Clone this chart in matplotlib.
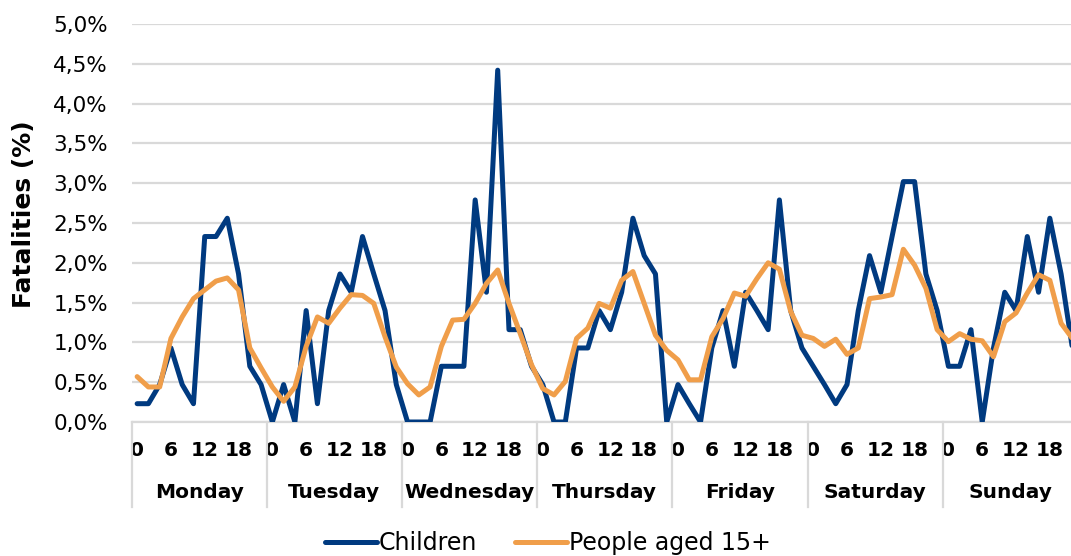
import numpy as np
import matplotlib.pyplot as plt
import matplotlib.transforms as mtransforms
from matplotlib.ticker import FuncFormatter

# Data: share of fatalities (%) by 2-hour slot, for each day of the week
days = ['Monday', 'Tuesday', 'Wednesday', 'Thursday', 'Friday', 'Saturday', 'Sunday']
hours = [0, 2, 4, 6, 8, 10, 12, 14, 16, 18, 20, 22]
hour_labels = ['0', '', '', '6', '', '', '12', '', '', '18', '', '']

children = [
    0.23, 0.23, 0.47, 0.93, 0.47, 0.23, 2.33, 2.33, 2.56, 1.86, 0.70, 0.47,   # Mon
    0.00, 0.47, 0.00, 1.40, 0.23, 1.40, 1.86, 1.63, 2.33, 1.86, 1.40, 0.47,   # Tue
    0.00, 0.00, 0.00, 0.70, 0.70, 0.70, 2.79, 1.63, 4.42, 1.16, 1.16, 0.70,   # Wed
    0.47, 0.00, 0.00, 0.93, 0.93, 1.40, 1.16, 1.63, 2.56, 2.09, 1.86, 0.00,   # Thu
    0.47, 0.23, 0.00, 0.93, 1.40, 0.70, 1.63, 1.40, 1.16, 2.79, 1.40, 0.93,   # Fri
    0.70, 0.47, 0.23, 0.47, 1.40, 2.09, 1.63, 2.33, 3.02, 3.02, 1.86, 1.40,   # Sat
    0.70, 0.70, 1.16, 0.00, 0.93, 1.63, 1.40, 2.33, 1.63, 2.56, 1.86, 0.93,   # Sun
]

adults = [
    0.57, 0.44, 0.44, 1.05, 1.32, 1.55, 1.66, 1.77, 1.81, 1.66, 0.93, 0.68,   # Mon
    0.44, 0.26, 0.44, 0.95, 1.32, 1.24, 1.43, 1.60, 1.59, 1.49, 1.07, 0.69,   # Tue
    0.48, 0.34, 0.44, 0.95, 1.28, 1.29, 1.49, 1.74, 1.91, 1.49, 1.11, 0.72,   # Wed
    0.42, 0.34, 0.51, 1.05, 1.18, 1.49, 1.43, 1.78, 1.89, 1.49, 1.09, 0.90,   # Thu
    0.78, 0.53, 0.53, 1.07, 1.30, 1.62, 1.58, 1.80, 2.00, 1.92, 1.39, 1.09,   # Fri
    1.05, 0.95, 1.04, 0.85, 0.93, 1.55, 1.57, 1.60, 2.17, 1.97, 1.68, 1.16,   # Sat
    1.01, 1.11, 1.04, 1.02, 0.82, 1.26, 1.37, 1.62, 1.85, 1.78, 1.24, 1.05,   # Sun
]

blue = '#003A80'
orange = '#F09E4A'
grey = '#D9D9D9'

plt.rcParams['font.family'] = ['DejaVu Sans']

fig = plt.figure(figsize=(10.71, 5.56), dpi=100)
ax = fig.add_axes([131.5 / 1071, 134 / 556, 946.5 / 1071, 398 / 556])

x = np.arange(len(children))
ax.plot(x, children, color=blue, lw=3.6, solid_joinstyle='round', solid_capstyle='round',
        label='Children', zorder=3)
ax.plot(x, adults, color=orange, lw=3.6, solid_joinstyle='round', solid_capstyle='round',
        label='People aged 15+', zorder=4)

ax.set_xlim(-0.5, len(children) - 0.5)
ax.set_ylim(0, 5)
ax.set_yticks(np.arange(0, 5.01, 0.5))
ax.yaxis.set_major_formatter(FuncFormatter(lambda v, p: f'{v:.1f}%'.replace('.', ',')))
ax.tick_params(axis='y', length=0, pad=17, labelsize=15.5)
ax.yaxis.grid(True, color=grey, lw=1.6)
ax.set_axisbelow(True)

ax.set_xticks(x)
ax.set_xticklabels(hour_labels * len(days), fontweight='bold', fontsize=14.5)
ax.tick_params(axis='x', length=0, pad=14)

for s in ['top', 'right', 'left']:
    ax.spines[s].set_visible(False)
ax.spines['bottom'].set_color(grey)
ax.spines['bottom'].set_linewidth(1.6)

# day separators and day names below the hour labels
trans = mtransforms.blended_transform_factory(ax.transData, ax.transAxes)
n = len(hours)
for k, day in enumerate(days):
    ax.plot([k * n - 0.5, k * n - 0.5], [0, -0.214], color=grey, lw=1.6,
            transform=trans, clip_on=False)
    ax.text(k * n + (n - 1) / 2, -0.178, day, transform=trans, ha='center', va='center',
            fontsize=14.5, fontweight='bold')

fig.text(24 / 1071, 1 - 214 / 556, 'Fatalities (%)', rotation=90, ha='center', va='center',
         fontsize=18, fontweight='bold')

fig.legend(loc='center', bbox_to_anchor=(548 / 1071, 1 - 543 / 556), ncol=2, frameon=False,
           fontsize=17, handlelength=2.2, handletextpad=0.1, columnspacing=1.6)

fig.savefig('out.png', dpi=100)
